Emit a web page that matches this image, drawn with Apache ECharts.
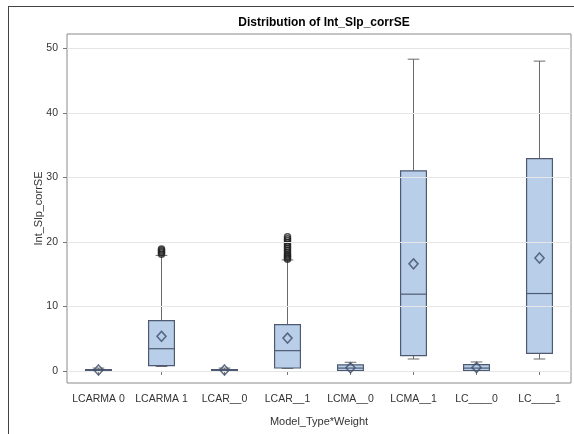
<!DOCTYPE html>
<html>
<head>
<meta charset="utf-8">
<script src="https://cdn.jsdelivr.net/npm/echarts@6/dist/echarts.min.js"></script>
<style>
  html, body { margin: 0; padding: 0; background: #fff; }
  #chart { width: 574px; height: 434px; }
</style>
</head>
<body>
<div id="chart"></div>
<script>
// Groups on the x axis
const categories = ['LCARMA 0', 'LCARMA 1', 'LCAR__0', 'LCAR__1', 'LCMA__0', 'LCMA__1', 'LC____0', 'LC____1'];
// Box statistics per group: [min whisker, Q1, median, Q3, max whisker]
const boxStats = [
  [0.0, 0.05, 0.1, 0.2, 0.45],
  [0.7, 0.82, 3.45, 7.8, 17.9],
  [0.0, 0.05, 0.1, 0.2, 0.45],
  [0.4, 0.46, 3.15, 7.17, 17.2],
  [0.0, 0.05, 0.45, 0.95, 1.35],
  [1.86, 2.37, 11.9, 31.0, 48.3],
  [0.0, 0.05, 0.45, 1.0, 1.4],
  [1.86, 2.73, 12.0, 32.9, 48.0]
];
// Group means
const means = [0.15, 5.37, 0.15, 5.1, 0.5, 16.6, 0.55, 17.5];
// Outliers: [group index, value]
const outliers = [
  [1, 18.1], [1, 18.3], [1, 18.5], [1, 18.7], [1, 18.9],
  [3, 17.3], [3, 17.5], [3, 17.7], [3, 17.9], [3, 18.1], [3, 18.4],
  [3, 18.7], [3, 19.0], [3, 19.3], [3, 19.6], [3, 19.9], [3, 20.2], [3, 20.5], [3, 20.8]
];
const yTicks = [0, 10, 20, 30, 40, 50];

const FONT = 'Liberation Sans, Arial, sans-serif';
const BOX_FILL = '#b9cfe9';
const BOX_EDGE = '#4e5a72';
const WHISKER = '#6a6a6a';

const chart = echarts.init(document.getElementById('chart'), null, { renderer: 'canvas' });

const boxData = boxStats.map((s, i) => [i].concat(s));

function renderBox(params, api) {
  const x = api.value(0);
  const pMin = api.coord([x, api.value(1)]);
  const pQ1 = api.coord([x, api.value(2)]);
  const pMed = api.coord([x, api.value(3)]);
  const pQ3 = api.coord([x, api.value(4)]);
  const pMax = api.coord([x, api.value(5)]);
  const band = api.size([1, 0])[0];
  const half = band * 0.205;
  const cap = half * 0.45;
  const cx = pMed[0];
  const lineStyle = { stroke: WHISKER, lineWidth: 1 };
  return {
    type: 'group',
    children: [
      { type: 'line', shape: { x1: cx, y1: pQ3[1], x2: cx, y2: pMax[1] }, style: lineStyle },
      { type: 'line', shape: { x1: cx, y1: pQ1[1], x2: cx, y2: pMin[1] }, style: lineStyle },
      { type: 'line', shape: { x1: cx - cap, y1: pMax[1], x2: cx + cap, y2: pMax[1] }, style: lineStyle },
      { type: 'line', shape: { x1: cx - cap, y1: pMin[1], x2: cx + cap, y2: pMin[1] }, style: lineStyle },
      {
        type: 'rect',
        shape: { x: cx - half, y: pQ3[1], width: half * 2, height: Math.max(pQ1[1] - pQ3[1], 1.5) },
        style: { fill: BOX_FILL, stroke: BOX_EDGE, lineWidth: 1.2 }
      },
      { type: 'line', shape: { x1: cx - half, y1: pMed[1], x2: cx + half, y2: pMed[1] }, style: { stroke: BOX_EDGE, lineWidth: 1.2 } }
    ]
  };
}

const option = {
  backgroundColor: '#ffffff',
  animation: false,
  title: {
    text: 'Distribution of Int_Slp_corrSE',
    left: 319, top: 12, textAlign: 'center',
    textStyle: { fontFamily: FONT, fontSize: 12, fontWeight: 'bold', color: '#000' }
  },
  grid: {
    left: 67, right: 3, top: 34, bottom: 51,
    show: true, borderColor: '#8a8a8a', borderWidth: 1, backgroundColor: '#fff'
  },
  xAxis: {
    type: 'category',
    data: categories,
    boundaryGap: true,
    name: 'Model_Type*Weight',
    nameLocation: 'middle',
    nameGap: 33,
    nameMoveOverlap: false,
    nameTextStyle: { fontFamily: FONT, fontSize: 11, color: '#333' },
    axisLine: { show: false },
    axisTick: { show: true, alignWithLabel: true, length: 4, lineStyle: { color: '#777' } },
    axisLabel: { fontFamily: FONT, fontSize: 10.5, color: '#333', margin: 11, interval: 0 },
    splitLine: { show: false }
  },
  yAxis: {
    type: 'value',
    min: -1.86, max: 52.2,
    name: 'Int_Slp_corrSE',
    nameLocation: 'middle',
    nameGap: 23,
    nameMoveOverlap: false,
    nameTextStyle: { fontFamily: FONT, fontSize: 11, color: '#333' },
    axisLine: { show: false },
    axisTick: { show: true, length: 4, customValues: yTicks, lineStyle: { color: '#777' } },
    axisLabel: { fontFamily: FONT, fontSize: 10.5, color: '#333', margin: 9, customValues: yTicks },
    splitLine: { show: false }
  },
  graphic: [
    { type: 'line', shape: { x1: 8.5, y1: 6, x2: 8.5, y2: 434 }, style: { stroke: '#444', lineWidth: 1 } },
    { type: 'line', shape: { x1: 8, y1: 6.5, x2: 574, y2: 6.5 }, style: { stroke: '#444', lineWidth: 1 } }
  ],
  series: [
    {
      // horizontal reference lines at each labelled tick
      type: 'line',
      data: [],
      markLine: {
        silent: true,
        symbol: 'none',
        label: { show: false },
        lineStyle: { color: '#e6e6e6', type: 'solid', width: 1 },
        data: yTicks.map(v => ({ yAxis: v }))
      },
      z: 1
    },
    {
      type: 'custom',
      renderItem: renderBox,
      data: boxData,
      encode: { x: 0, y: [1, 2, 3, 4, 5] },
      z: 3
    },
    {
      type: 'scatter',
      data: outliers,
      symbol: 'circle',
      symbolSize: 6,
      itemStyle: { color: 'rgba(0,0,0,0)', borderColor: '#222', borderWidth: 1.5 },
      z: 4
    },
    {
      type: 'scatter',
      data: means.map((m, i) => [i, m]),
      symbol: 'diamond',
      symbolSize: [9, 10],
      itemStyle: { color: 'rgba(0,0,0,0)', borderColor: '#3f4d6a', borderWidth: 1.6 },
      z: 5
    }
  ]
};

chart.setOption(option);
</script>
</body>
</html>
